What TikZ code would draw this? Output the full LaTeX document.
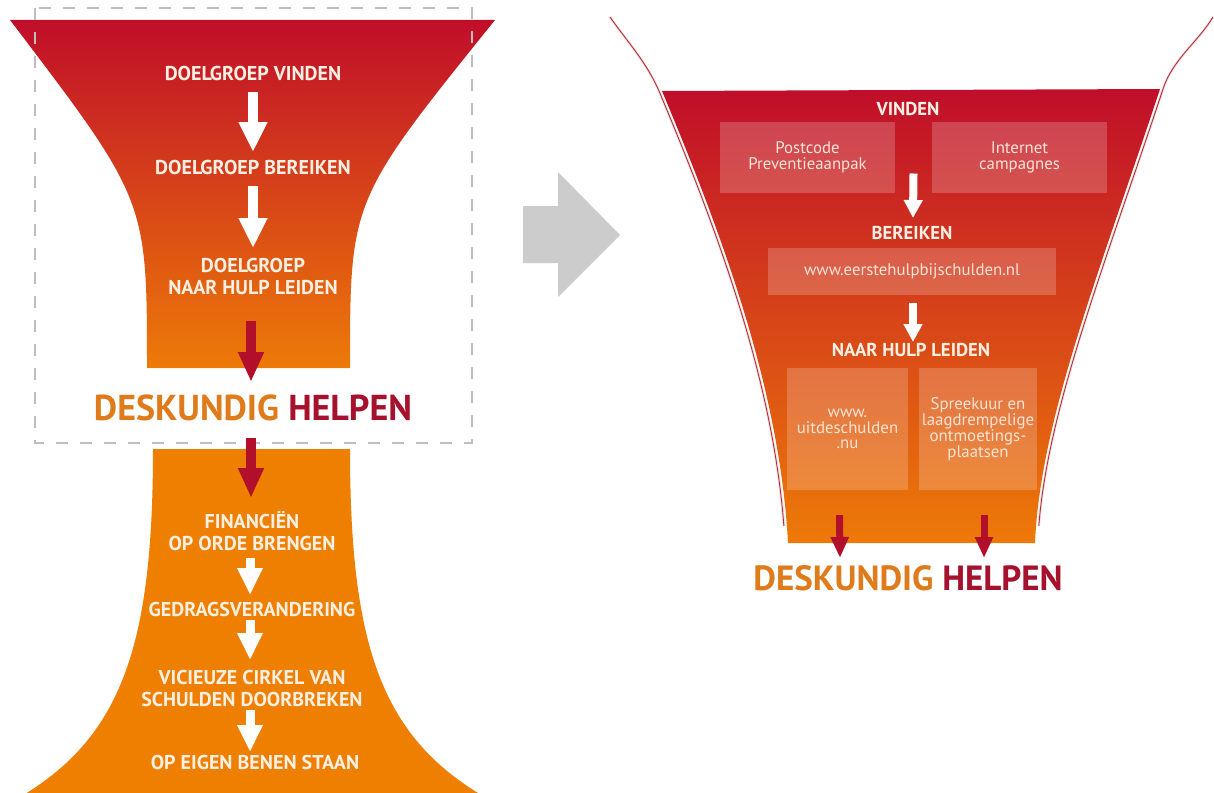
\documentclass[tikz,border=0pt]{standalone}
\usepackage{fontspec}
\setmainfont{PT Sans}
\usetikzlibrary{arrows.meta,calc}
\definecolor{fred}{RGB}{192,14,42}
\definecolor{fmid}{RGB}{214,55,32}
\definecolor{forange}{RGB}{237,122,8}
\definecolor{lorange}{RGB}{238,127,0}
\definecolor{cream}{RGB}{253,240,226}
\definecolor{boxtxt}{RGB}{250,228,212}
\definecolor{dorange}{RGB}{224,123,28}
\definecolor{dred}{RGB}{166,18,45}
\definecolor{arred}{RGB}{178,16,42}
\definecolor{dashgray}{RGB}{190,190,190}
\definecolor{arrgray}{RGB}{204,204,204}
\definecolor{linered}{RGB}{170,50,60}
\definecolor{halo}{RGB}{250,220,220}
\begin{document}
\begin{tikzpicture}[x=1pt,y=-1pt,
  head/.style={font=\fontsize{20}{22}\selectfont\bfseries, text=cream, inner sep=0pt, align=center},
  rhead/.style={font=\fontsize{18.7}{20}\selectfont\bfseries, text=cream, inner sep=0pt, align=center},
  boxt/.style={fill=white, fill opacity=0.2, text opacity=1, text=boxtxt, font=\fontsize{16.8}{15.8}\selectfont, align=center, inner sep=0pt},
  big/.style={font=\fontsize{36}{38}\selectfont\bfseries, inner sep=0pt},
  bigr/.style={font=\fontsize{35}{38}\selectfont\bfseries, inner sep=0pt},
  warr/.style={draw=white, line width=10pt, -{Triangle[length=30pt,width=27pt]}},
  wsarr/.style={draw=white, line width=9pt, -{Triangle[length=27pt,width=24pt]}},
  rarr/.style={draw=arred, line width=10pt, -{Triangle[length=30pt,width=24pt]}},
  rwarr/.style={draw=white, line width=8pt, -{Triangle[length=18pt,width=18pt]}},
  rrarr/.style={draw=arred, line width=7pt, -{Triangle[length=21pt,width=17pt]}},
  thinhalo/.style={draw=halo, line width=2.6pt},
  thin/.style={draw=linered, line width=0.9pt}
]
\clip (0,0) rectangle (1214,792);
\fill[white] (0,0) rectangle (1214,792);

% ---------- left upper funnel
\shade[top color=fred, middle color=fmid, bottom color=forange]
  (10,20) .. controls (147,200) .. (147,368) -- (350,368) .. controls (350,200) .. (495,20) -- cycle;
% ---------- left lower funnel
\fill[lorange]
  (153,449) .. controls (153,650) and (120,740) .. (15,800) -- (490,800)
  .. controls (383,740) and (350,650) .. (350,449) -- cycle;
% ---------- dashed frame
\draw[dashgray, line width=1.5pt, dash pattern=on 12pt off 12pt] (35,8) rectangle (472,443);

% ---------- left texts
\node[head] (t1) at (253,73) {DOELGROEP VINDEN};
\node[head] (t2) at (253,167) {DOELGROEP BEREIKEN};
\node[head] (t3) at (253,276) {DOELGROEP\\NAAR HULP LEIDEN};
\node[big] (dh1) at (253,408) {\textcolor{dorange}{DESKUNDIG} \textcolor{dred}{HELPEN}};
\node[head] (t4) at (252,531) {FINANCIËN\\OP ORDE BRENGEN};
\node[head] (t5) at (252,609) {GEDRAGSVERANDERING};
\node[head] (t6) at (252,688) {VICIEUZE CIRKEL VAN\\SCHULDEN DOORBREKEN};
\node[head] (t7) at (255,762) {OP EIGEN BENEN STAAN};

% ---------- left arrows
\draw[warr] ($(t1.center)+(0,19)$) -- ($(t2.center)+(0,-15)$);
\draw[warr] ($(t2.center)+(0,19)$) -- ($(t3.center)+(0,-28)$);
\draw[rarr] ($(t3.center)+(-2,45)$) -- ($(dh1.center)+(-2,-26)$);
\draw[rarr] ($(dh1.center)+(-2,30)$) -- ($(t4.center)+(-1,-33)$);
\draw[wsarr] ($(t4.center)+(-2,27)$) -- ($(t5.center)+(-2,-14)$);
\draw[wsarr] ($(t5.center)+(-2,11)$) -- ($(t6.center)+(-2,-28)$);
\draw[wsarr] ($(t6.center)+(-2,22)$) -- ($(t7.center)+(-5,-10)$);

% ---------- grey arrow
\fill[arrgray] (523,206) -- (558,206) -- (558,172) -- (620,235) -- (558,297) -- (558,263) -- (523,263) -- cycle;

% ---------- right funnel
\begin{scope}
\clip (580,0) rectangle (1214,525);
\draw[thinhalo] (610,17) .. controls (627.5,42) and (646.4,62) .. (659,91)
  .. controls (722,241) and (777,393) .. (785,543);
\draw[thinhalo] (1213,17) .. controls (1198,42) and (1172.9,59) .. (1163,89)
  .. controls (1103.6,269) and (1043,420) .. (1038,540);
\draw[thin] (610,17) .. controls (627.5,42) and (646.4,62) .. (659,91)
  .. controls (722,241) and (777,393) .. (785,543);
\draw[thin] (1213,17) .. controls (1198,42) and (1172.9,59) .. (1163,89)
  .. controls (1103.6,269) and (1043,420) .. (1038,540);
\end{scope}
\shade[top color=fred, middle color=fmid, bottom color=forange]
  (662,91) .. controls (725,241) and (780,393) .. (788,543) -- (1035,543)
  .. controls (1040,420) and (1100.6,269) .. (1160,89) -- cycle;

\node[rhead] (v) at (908,109) {VINDEN};
\node[boxt, minimum width=175pt, minimum height=71pt] (b1) at (807.5,157.5) {Postcode\\Preventieaanpak};
\node[boxt, minimum width=175pt, minimum height=71pt] (b2) at (1019.5,157.5) {Internet\\campagnes};
\node[rhead] (be) at (912,233) {BEREIKEN};
\node[boxt, minimum width=288pt, minimum height=47pt] (b3) at (912,271.5) {www.eerstehulpbijschulden.nl};
\node[rhead] (nh) at (911,350) {NAAR HULP LEIDEN};
\node[boxt, minimum width=121pt, minimum height=122pt] (b4) at (847.5,429) {www.\\uitdeschulden\\.nu};
\node[boxt, minimum width=118pt, minimum height=122pt] (b5) at (978,429) {Spreekuur en\\laagdrempelige\\ontmoetings-\\plaatsen};
\node[bigr] (dh2) at (908,578) {\textcolor{dorange}{DESKUNDIG} \textcolor{dred}{HELPEN}};

\draw[rwarr] ($(b1.east)!0.5!(b2.west)+(0,16)$) -- ($(be.center)+(1,-15)$);
\draw[rwarr] ($(b3.south)+(1,8)$) -- ($(nh.center)+(2,-8)$);
\draw[rrarr] ($(b4.south)+(-8,25)$) -- ($(dh2.center)+(-68,-20)$);
\draw[rrarr] ($(b5.south)+(6,25)$) -- ($(dh2.center)+(76,-20)$);
\end{tikzpicture}
\end{document}
